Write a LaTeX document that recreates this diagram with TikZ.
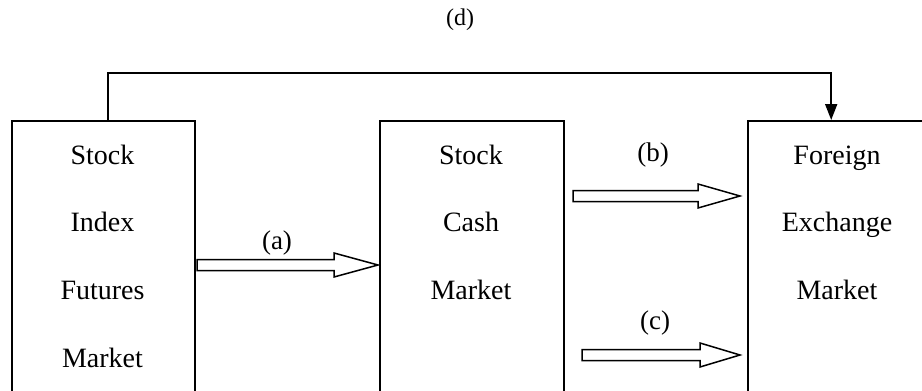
\documentclass[tikz,border=0pt]{standalone}
\usepackage{fontspec}
\setmainfont{Liberation Serif}
\usetikzlibrary{arrows.meta}
\newcommand\hollowarrow[4]{%
  \draw[hollow] (#1,#4-5.5) -- (#2,#4-5.5) -- (#2,#4-12) -- (#3,#4) -- (#2,#4+12) -- (#2,#4+5.5) -- (#1,#4+5.5) -- cycle;}
\begin{document}
\begin{tikzpicture}[x=1pt,y=-1pt,
  market/.style={draw, line width=2.4pt, minimum height=300pt, anchor=north west, inner sep=0pt},
  boxtext/.style={align=center, font=\fontsize{28}{67.7}\selectfont, anchor=base, inner sep=0pt},
  lab/.style={font=\fontsize{27}{30}\selectfont, inner sep=0pt},
  hollow/.style={draw, line width=1.5pt, line join=miter, fill=white},
  link/.style={draw, line width=1.8pt, -{Triangle[length=16pt,width=12pt]}}]
\useasboundingbox (0,0) rectangle (922,391);
\clip (0,0) rectangle (922,391);
% boxes
\node[market, minimum width=183pt] (fut) at (11,120) {};
\node[market, minimum width=184pt] (cash) at (379,120) {};
\node[market, minimum width=190pt] (fx) at (747,120) {};
% box texts (base = baseline of the last line)
\node[boxtext] (futt) at (102.5,367.1) {Stock\\Index\\Futures\\Market};
\node[boxtext] (casht) at (471,299.4) {Stock\\Cash\\Market};
\node[boxtext] (fxt) at (837,299.4) {Foreign\\Exchange\\Market};
% hollow arrows
\hollowarrow{197}{334}{378}{265}
\hollowarrow{573}{698}{740}{196}
\hollowarrow{582}{700}{740}{355}
% labels
\node[lab] (la) at (277,243) {(a)};
\node[lab] (lb) at (653,155) {(b)};
\node[lab] (lc) at (655,323) {(c)};
\node[font=\fontsize{24}{28}\selectfont, inner sep=0pt] (ld) at (460,20) {(d)};
% connector (d)
\draw[link] ([xshift=4.5pt]fut.north) -- ++(0,-47) -| ([xshift=-12pt]fx.north);
\end{tikzpicture}
\end{document}
